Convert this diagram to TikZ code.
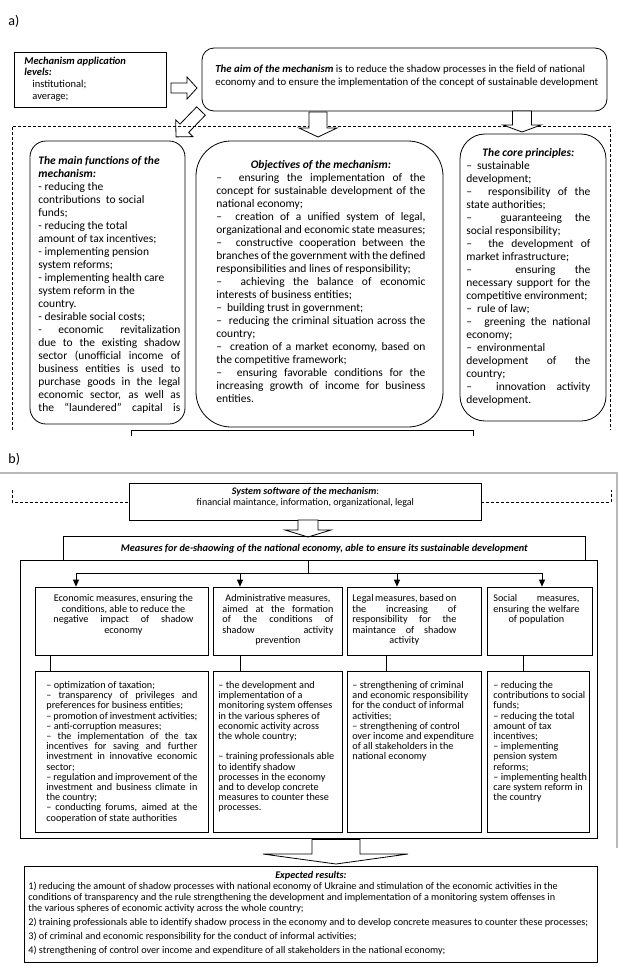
\documentclass[tikz,border=0pt]{standalone}
\usepackage{fontspec}
\setmainfont{Carlito}
\usetikzlibrary{arrows.meta}
\newcommand\LJ[1]{\hbox to\hsize{#1}}
\newcommand\LL[1]{\hbox to\hsize{#1\hfil}}
\newcommand\LC[1]{\hbox to\hsize{\hfil#1\hfil}}
\newcommand\BI[1]{\textbf{\textit{#1}}}
\newcommand\Dsh{–\hskip 5pt plus 3pt\relax}
\newcommand\TB[2]{\vtop{\hsize=#1pt\relax #2}}
\newcommand\bx[6]{\node[#6, minimum width=#4pt-#2pt, minimum height=#5pt-#3pt] (#1) at ({(#2+#4)/2},{(#3+#5)/2}) {};}
\newcommand\harrow[7]{%
 \begin{scope}[shift={(#1,#2)},rotate=#3]
 \draw[fill=white, line join=miter] (0,-#5) -- ({#4-#7},-#5) -- ({#4-#7},-#6) -- (#4,0) -- ({#4-#7},#6) -- ({#4-#7},#5) -- (0,#5) -- cycle;
 \end{scope}}
\begin{document}
\begin{tikzpicture}[x=1pt,y=-1pt, line width=0.8pt,
  sq/.style={draw, inner sep=0pt},
  rnd/.style={draw, inner sep=0pt, rounded corners=#1},
  txt/.style={inner sep=0pt, anchor=base west},
  fa/.style={font=\fontsize{11.5}{13.05}\selectfont},
  fb/.style={font=\fontsize{10.2}{10.5}\selectfont},
  fc/.style={font=\fontsize{10.2}{10.2}\selectfont},
  fr/.style={font=\fontsize{10.2}{11}\selectfont},
  dsh/.style={dash pattern=on 3pt off 2pt, line width=0.7pt},
  arr/.style={-{Triangle[length=7pt,width=6pt]}}]
\useasboundingbox (0,0) rectangle (620,975);
% ---------- a) ----------
\node[txt, font=\fontsize{14}{16}\selectfont] (la) at (8,25) {a)};
\bx{lev}{14}{52}{166}{107}{sq}
\node[txt, font=\fontsize{10.5}{11.8}\selectfont] (levT) at (24,64) {\TB{135}{%
 \LL{\BI{Mechanism application}}
 \LL{\BI{levels:}}
 \LL{\hskip 8pt institutional;}
 \LL{\hskip 8pt average;}}};
\bx{aim}{202}{48}{607}{111}{rnd=12pt}
\node[txt, font=\fontsize{10.8}{13}\selectfont] (aimT) at (215,72.5) {\TB{385}{%
 \LL{\BI{The aim of the mechanism} is to reduce the shadow processes in the field of national}
 \LL{economy and to ensure the implementation of the concept of sustainable development}}};
\harrow{171}{88}{0}{26}{5}{11}{10}
\harrow{201}{111}{226}{36}{6}{12}{12}
\draw[dsh] (12,430) -- (12,126) -- (610,126) -- (610,430);
\harrow{318}{112}{-90}{25}{9}{19}{9}
\harrow{522}{111}{-90}{21}{9.5}{19}{7}
\bx{mf}{30}{141}{185}{424}{rnd=16pt}
\node[txt, fa] (mfT) at (38,164) {\TB{142}{%
 \LL{\BI{The main functions of the}}
 \LL{\BI{mechanism:}}
 \LL{- reducing the}
 \LL{contributions\ \ to social}
 \LL{funds;}
 \LL{- reducing the total}
 \LL{amount of tax incentives;}
 \LL{- implementing pension}
 \LL{system reforms;}
 \LL{- implementing health care}
 \LL{system reform in the}
 \LL{country.}
 \LL{- desirable social costs;}
 \LJ{- economic revitalization}
 \LJ{due to the existing shadow}
 \LJ{sector (unofficial income of}
 \LJ{business entities is used to}
 \LJ{purchase goods in the legal}
 \LJ{economic sector, as well as}
 \LJ{the “laundered” capital is}}};
\bx{obj}{196}{141}{443}{427}{rnd=35pt}
\node[txt, fa] (objT) at (216,168) {\TB{209}{%
 \LC{\BI{Objectives of the mechanism:}}
 \LJ{\Dsh ensuring the implementation of the}
 \LJ{concept for sustainable development of the}
 \LL{national economy;}
 \LJ{\Dsh creation of a unified system of legal,}
 \LL{organizational and economic state measures;}
 \LJ{\Dsh constructive cooperation between the}
 \LJ{branches of the government with the defined}
 \LL{responsibilities and lines of responsibility;}
 \LJ{\Dsh achieving the balance of economic}
 \LL{interests of business entities;}
 \LL{\Dsh building trust in government;}
 \LJ{\Dsh reducing the criminal situation across the}
 \LL{country;}
 \LJ{\Dsh creation of a market economy, based on}
 \LL{the competitive framework;}
 \LJ{\Dsh ensuring favorable conditions for the}
 \LJ{increasing growth of income for business}
 \LL{entities.}}};
\bx{core}{460}{134}{606}{421}{rnd=25pt}
\node[txt, fa] (coreT) at (466,156) {\TB{124}{%
 \LC{\BI{The core principles:}}
 \LL{\Dsh sustainable}
 \LL{development;}
 \LJ{\Dsh responsibility of the}
 \LL{state authorities;}
 \LJ{\Dsh guaranteeing the}
 \LL{social responsibility;}
 \LJ{\Dsh the development of}
 \LL{market infrastructure;}
 \LJ{\Dsh ensuring the}
 \LJ{necessary support for the}
 \LL{competitive environment;}
 \LL{\Dsh rule of law;}
 \LJ{\Dsh greening the national}
 \LL{economy;}
 \LL{\Dsh environmental}
 \LJ{development of the}
 \LL{country;}
 \LJ{\Dsh innovation activity}
 \LL{development.}}};
\coordinate (cutL) at (131,430);
\coordinate (cutR) at (473,430);
\draw ([yshift=-6pt]cutL) -- (cutL) -- (cutR) -- ([yshift=-6pt]cutR);
% ---------- b) ----------
\node[txt, font=\fontsize{14}{16}\selectfont] (lb) at (8,463) {b)};
\draw[gray!55, line width=1.3pt] (0,473) -- (617,473) -- (617,848);
\bx{sys}{129}{483}{481}{520}{sq}
\node[txt, font=\fontsize{10}{11.5}\selectfont] (sysT) at (129,494) {\TB{352}{%
 \LC{\BI{System software of the mechanism}:}
 \LC{financial maintance, information, organizational, legal}}};
\draw[dsh] (12,490) -- (12,502) -- (sys.west |- 0,502);
\draw[dsh] (sys.east |- 0,502) -- (611,502) -- (611,490);
\harrow{308}{520}{-90}{17}{10}{23}{7}
\bx{meas}{63}{536}{585}{560}{sq}
\node[txt, font=\fontsize{10.3}{12}\selectfont] (measT) at (63,551.5) {\TB{522}{%
 \LC{\BI{Measures for de-shaowing of the national economy, able to ensure its sustainable development}}}};
\bx{outer}{20}{560}{597}{838}{sq}
\bx{econ}{35}{587}{208}{655}{sq}
\bx{adm}{213}{587}{342}{655}{sq}
\bx{leg}{347}{587}{481}{655}{sq}
\bx{soc}{487}{587}{592}{655}{sq}
\bx{econD}{35}{671}{208}{832}{sq}
\bx{admD}{213}{671}{342}{832}{sq}
\bx{legD}{347}{671}{481}{832}{sq}
\bx{socD}{487}{671}{589}{832}{sq}
\coordinate (tr) at (308,573);
\coordinate (a1) at (76,573);
\coordinate (a2) at (240,573);
\coordinate (a3) at (397,573);
\coordinate (a4) at (542,573);
\draw (meas.south -| tr) -- (tr);
\draw (a1) -- (a4);
\draw[arr] (a1) -- (a1 |- econ.north);
\draw[arr] (a2) -- (a2 |- adm.north);
\draw[arr] (a3) -- (a3 |- leg.north);
\draw[arr] (a4) -- (a4 |- soc.north);
\draw (econ.south -| 50,0) -- (econD.north -| 50,0);
\draw (adm.south -| 240,0) -- (admD.north -| 240,0);
\draw (leg.south -| 386,0) -- (legD.north -| 386,0);
\draw (soc.south -| 523,0) -- (socD.north -| 523,0);
\node[txt, fb] (econT) at (53,601.5) {\TB{140}{%
 \LC{Economic measures, ensuring the}
 \LC{conditions, able to reduce the}
 \LJ{negative impact of shadow}
 \LC{economy}}};
\node[txt, fb] (admT) at (222,601.5) {\TB{111}{%
 \LC{Administrative measures,}
 \LJ{aimed at the formation}
 \LJ{of the conditions of}
 \LJ{shadow activity}
 \LC{prevention}}};
\node[txt, fb] (legT) at (352,601.5) {\TB{104}{%
 \LL{Legal measures, based on}
 \LJ{the increasing of}
 \LJ{responsibility for the}
 \LJ{maintance of shadow}
 \LC{activity}}};
\node[txt, fb] (socT) at (493,601.5) {\TB{86}{%
 \LJ{Social measures,}
 \LJ{ensuring the welfare}
 \LC{of population}}};
\node[txt, fc] (econDT) at (46,688.5) {\TB{151}{%
 \LL{– optimization of taxation;}
 \LJ{– transparency of privileges and}
 \LL{preferences for business entities;}
 \LL{– promotion of investment activities;}
 \LL{– anti-corruption measures;}
 \LJ{– the implementation of the tax}
 \LJ{incentives for saving and further}
 \LJ{investment in innovative economic}
 \LL{sector;}
 \LJ{– regulation and improvement of the}
 \LJ{investment and business climate in}
 \LL{the country;}
 \LJ{– conducting forums, aimed at the}
 \LL{cooperation of state authorities}}};
\node[txt, fc] (admDT) at (218,688.5) {\TB{122}{%
 \LL{– the development and}
 \LL{implementation of a}
 \LL{monitoring system offenses}
 \LL{in the various spheres of}
 \LL{economic activity across}
 \LL{the whole country;}
 \hbox{}
 \LL{– training professionals able}
 \LL{to identify shadow}
 \LL{processes in the economy}
 \LL{and to develop concrete}
 \LL{measures to counter these}
 \LL{processes.}}};
\node[txt, fc] (legDT) at (352,688.5) {\TB{125}{%
 \LL{– strengthening of criminal}
 \LL{and economic responsibility}
 \LL{for the conduct of informal}
 \LL{activities;}
 \LL{– strengthening of control}
 \LL{over income and expenditure}
 \LL{of all stakeholders in the}
 \LL{national economy}}};
\node[txt, fc] (socDT) at (493,688.5) {\TB{94}{%
 \LL{– reducing the}
 \LL{contributions to social}
 \LL{funds;}
 \LL{– reducing the total}
 \LL{amount of tax}
 \LL{incentives;}
 \LL{– implementing}
 \LL{pension system}
 \LL{reforms;}
 \LL{– implementing health}
 \LL{care system reform in}
 \LL{the country}}};
% bottom arrow
\coordinate (ba) at (336,839);
\draw[fill=white, line join=miter] ([xshift=-24pt]ba) -- ++(0,15) -- ++(-49,0) -- (336,864) -- (408,854) -- ([xshift=24pt]ba |- 0,854) -- ([xshift=24pt]ba) ;
\draw[line width=2.5pt] ([xshift=-24pt]ba) -- ([xshift=24pt]ba);
\bx{res}{24}{866}{597}{962}{sq}
\node[txt, fr] (resT) at (28,878) {\TB{565}{%
 \LC{\BI{Expected results:}}
 \LL{1) reducing the amount of shadow processes with national economy of Ukraine and stimulation of the economic activities in the}
 \LL{conditions of transparency and the rule strengthening the development and implementation of a monitoring system offenses in}
 \LL{the various spheres of economic activity across the whole country;}
 \vskip 3pt
 \LL{2) training professionals able to identify shadow process in the economy and to develop concrete measures to counter these processes;}
 \vskip 3pt
 \LL{3) of criminal and economic responsibility for the conduct of informal activities;}
 \vskip 3pt
 \LL{4) strengthening of control over income and expenditure of all stakeholders in the national economy;}}};
\end{tikzpicture}
\end{document}
